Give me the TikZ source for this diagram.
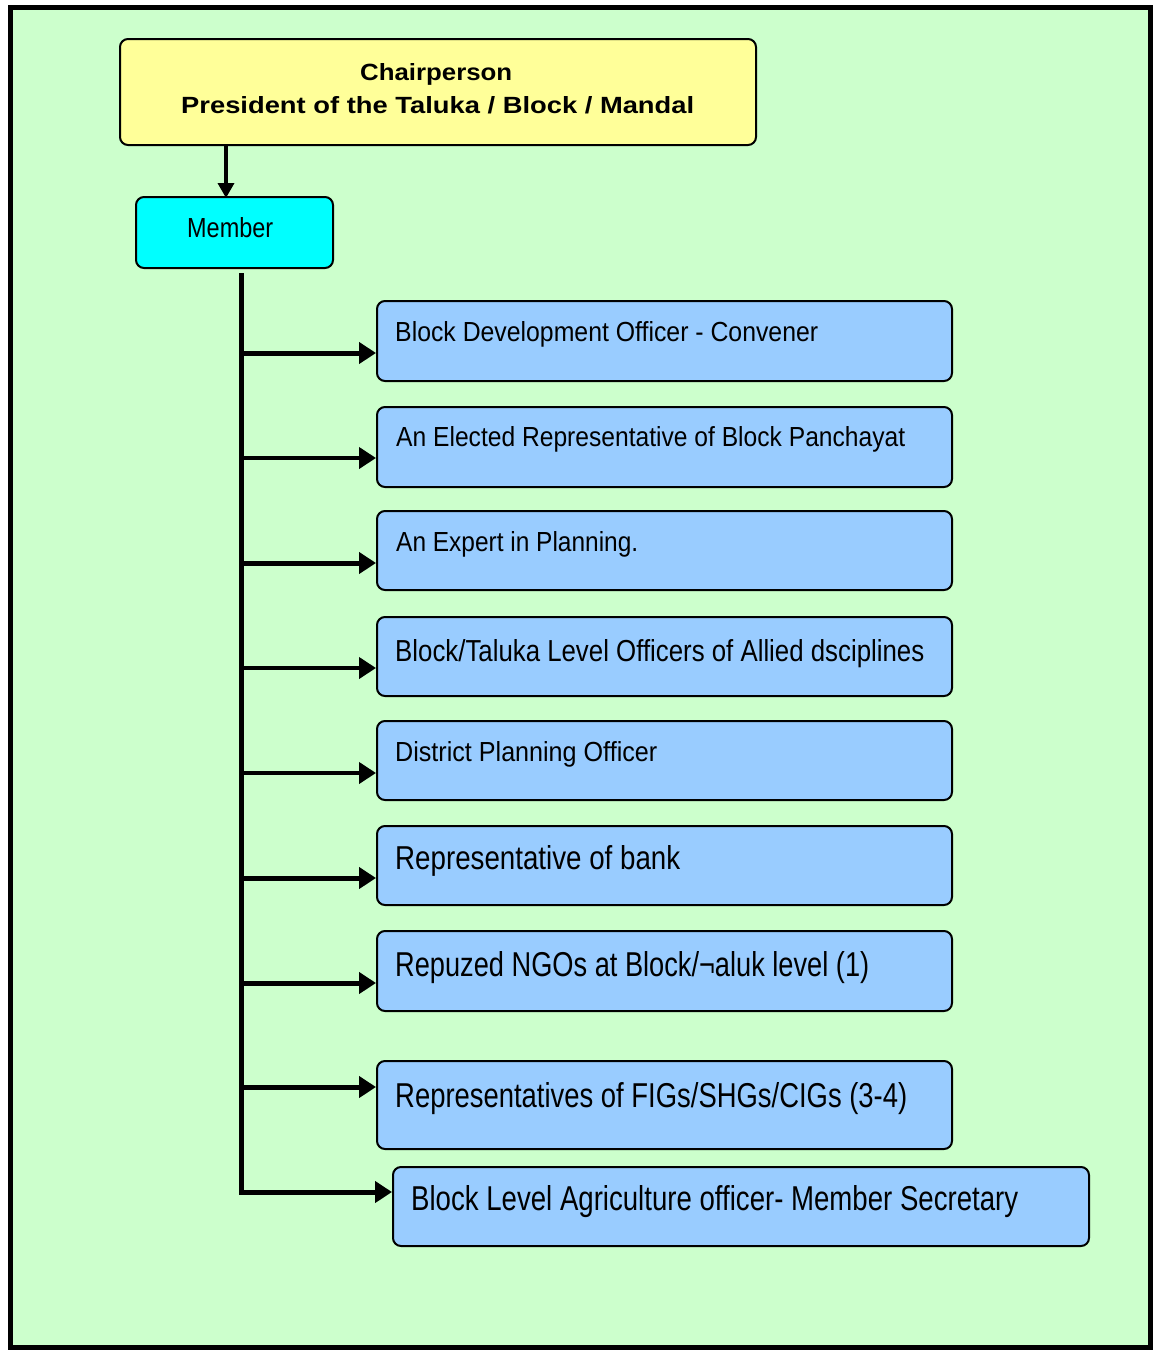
\documentclass[tikz,border=0pt]{standalone}
\usepackage{fontspec}
\setmainfont{Liberation Sans}
\usepackage{graphicx}
\usetikzlibrary{arrows.meta}
\definecolor{bgc}{HTML}{CCFFCC}
\definecolor{yel}{HTML}{FFFF99}
\definecolor{cya}{HTML}{00FFFF}
\definecolor{blu}{HTML}{99CCFF}
\newcommand{\fitt}[3]{\resizebox{#1pt}{#2pt}{#3}}
\tikzset{
  bx/.style={draw=black, line width=2pt, rounded corners=8pt, fill=blu, anchor=north west, inner sep=0pt},
  txt/.style={anchor=base west, inner sep=0pt, text=black},
  arr/.style={draw=black, line width=5pt, -{Triangle[length=17pt,width=21pt]}},
  arrthin/.style={draw=black, line width=4pt, -{Triangle[length=17pt,width=21pt]}},
}
\begin{document}
\begin{tikzpicture}[x=1pt,y=-1pt]
\useasboundingbox (0,0) rectangle (1155,1350);
\draw[line width=5pt, fill=bgc] (10.5,7) rectangle (1150.5,1347.5);
% top boxes
\node[draw=black, line width=2pt, rounded corners=8pt, fill=yel, anchor=north west, inner sep=0pt,
  minimum width=636pt, minimum height=106pt] (chair) at (119,38) {};
\node[txt] (ct1) at (360,80) {\fitt{152}{17}{\bfseries Chairperson}};
\node[txt] (ct2) at (181,113) {\fitt{513}{17}{\bfseries President of the Taluka / Block / Mandal}};
\node[draw=black, line width=2pt, rounded corners=8pt, fill=cya, anchor=north west, inner sep=0pt,
  minimum width=197pt, minimum height=71pt] (member) at (135,196) {};
\node[txt] (mt) at (187,237) {\fitt{86}{20}{Member}};
\coordinate (cm) at (226,0);
\draw[draw=black, line width=3.5pt, -{Triangle[length=15pt,width=16pt]}] (cm |- chair.south) -- ([yshift=-2pt]cm |- member.north);
% member boxes
\node[bx, minimum width=575pt, minimum height=80pt] (b1) at (376,300) {};
\node[bx, minimum width=575pt, minimum height=80pt] (b2) at (376,406) {};
\node[bx, minimum width=575pt, minimum height=79pt] (b3) at (376,510) {};
\node[bx, minimum width=575pt, minimum height=79pt] (b4) at (376,616) {};
\node[bx, minimum width=575pt, minimum height=79pt] (b5) at (376,720) {};
\node[bx, minimum width=575pt, minimum height=79pt] (b6) at (376,825) {};
\node[bx, minimum width=575pt, minimum height=80pt] (b7) at (376,930) {};
\node[bx, minimum width=575pt, minimum height=88pt] (b8) at (376,1060) {};
\node[bx, minimum width=696pt, minimum height=79pt] (b9) at (392,1166) {};
\node[txt] (t1) at (395,341) {\fitt{423}{20}{Block Development Officer - Convener}};
\node[txt] (t2) at (396,446) {\fitt{509}{20}{An Elected Representative of Block Panchayat}};
\node[txt] (t3) at (396,551) {\fitt{242}{20}{An Expert in Planning.}};
\node[txt] (t4) at (395,661) {\fitt{529}{22}{Block/Taluka Level Officers of Allied dsciplines}};
\node[txt] (t5) at (395,761) {\fitt{262}{20}{District Planning Officer}};
\node[txt] (t6) at (395,869) {\fitt{285}{24}{Representative of bank}};
\node[txt] (t7) at (395,976) {\fitt{474}{25}{Repuzed NGOs at Block/¬aluk level (1)}};
\node[txt] (t8) at (395,1107) {\fitt{512}{25}{Representatives of FIGs/SHGs/CIGs (3-4)}};
\node[txt] (t9) at (411,1210) {\fitt{607}{25}{Block Level Agriculture officer- Member Secretary}};
% trunk
\coordinate (trtop) at (241,273);
\coordinate (trbot) at (241,1194);
\draw[line width=5pt] (trtop) -- (trbot);
\coordinate (a1) at (239,353);
\coordinate (a2) at (239,458);
\coordinate (a3) at (239,563);
\coordinate (a4) at (239,668);
\coordinate (a5) at (239,773);
\coordinate (a6) at (239,878);
\coordinate (a7) at (239,983);
\coordinate (a8) at (239,1087);
\coordinate (a9) at (239,1192);
\draw[arr] (a1) -- (a1 -| b1.west);
\draw[arrthin] (a2) -- (a2 -| b2.west);
\draw[arr] (a3) -- (a3 -| b3.west);
\draw[arrthin] (a4) -- (a4 -| b4.west);
\draw[arrthin] (a5) -- (a5 -| b5.west);
\draw[arr] (a6) -- (a6 -| b6.west);
\draw[arr] (a7) -- (a7 -| b7.west);
\draw[arr] (a8) -- (a8 -| b8.west);
\draw[arr] (a9) -- (a9 -| b9.west);
\end{tikzpicture}
\end{document}
